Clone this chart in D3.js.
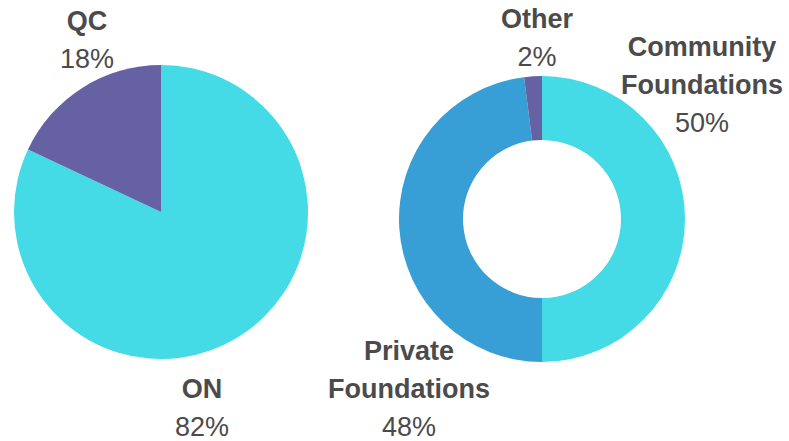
<!DOCTYPE html>
<html>
<head>
<meta charset="utf-8">
<script src="https://cdn.jsdelivr.net/npm/d3@7"></script>
<style>
  html, body { margin: 0; padding: 0; background: #ffffff; }
  svg { display: block; }
  .lbl-name { font-family: "Liberation Sans", Arial, sans-serif; font-weight: bold; font-size: 27px; fill: #4b4b4b; }
  .lbl-val  { font-family: "Liberation Sans", Arial, sans-serif; font-size: 27px; fill: #4b4b4b; }
</style>
</head>
<body>
<svg id="chart" width="789" height="441"></svg>
<script>
// Province split
const provinceNames = ["ON", "QC"];
const provinceValues = [82, 18];
const provinceColors = ["#44dae6", "#6661a3"];

// Funder type split
const funderNames = [["Community", "Foundations"], ["Private", "Foundations"], ["Other"]];
const funderValues = [50, 48, 2];
const funderColors = ["#44dae6", "#389ed6", "#6661a3"];

const svg = d3.select("#chart");

// Layout: chart centres, radii and label anchor points (x centre, first baseline)
const pieLayout = { cx: 161, cy: 212, outer: 147, inner: 0,
  labels: [{ x: 202, y: 398 }, { x: 87, y: 30 }] };
const donutLayout = { cx: 542, cy: 219, outer: 143, inner: 79,
  labels: [{ x: 702, y: 56 }, { x: 409, y: 360 }, { x: 537, y: 28 }] };

const lineGap = 38;

function drawChart(layout, names, values, colors) {
  const pie = d3.pie().sort(null).value(d => d);
  const arc = d3.arc().innerRadius(layout.inner).outerRadius(layout.outer);
  const g = svg.append("g").attr("transform", `translate(${layout.cx},${layout.cy})`);
  g.selectAll("path")
    .data(pie(values))
    .join("path")
    .attr("d", arc)
    .attr("fill", (d, i) => colors[i]);

  names.forEach((nm, i) => {
    const lines = Array.isArray(nm) ? nm : [nm];
    const pos = layout.labels[i];
    const t = svg.append("text").attr("text-anchor", "middle");
    lines.forEach((ln, j) => {
      t.append("tspan").attr("class", "lbl-name")
        .attr("x", pos.x).attr("y", pos.y + j * lineGap).text(ln);
    });
    t.append("tspan").attr("class", "lbl-val")
      .attr("x", pos.x).attr("y", pos.y + lines.length * lineGap)
      .text(values[i] + "%");
  });
}

drawChart(pieLayout, provinceNames, provinceValues, provinceColors);
drawChart(donutLayout, funderNames, funderValues, funderColors);
</script>
</body>
</html>
